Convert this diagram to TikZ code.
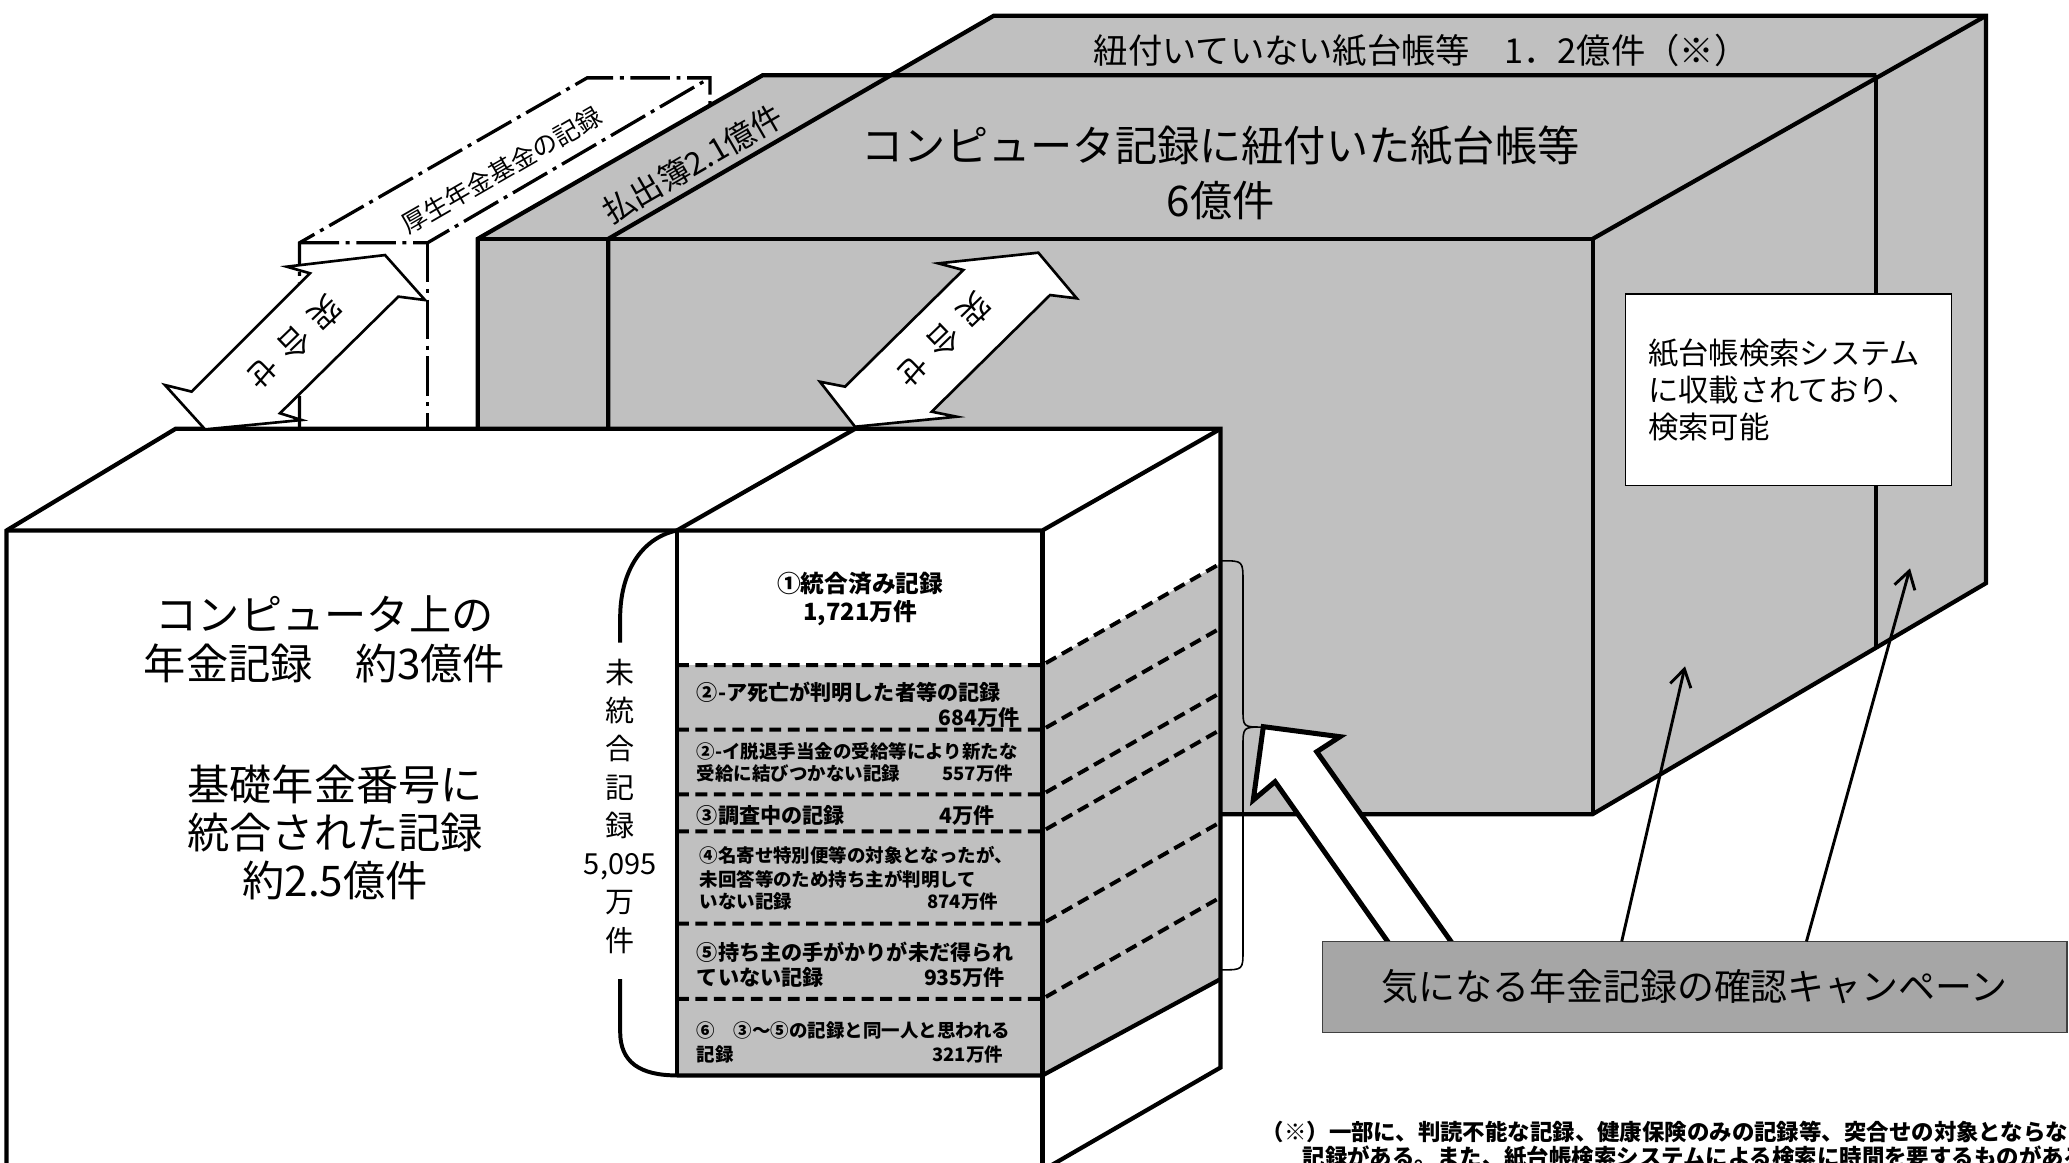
\documentclass[tikz,border=0pt]{standalone}
\usepackage{fontspec}
\setmainfont{Noto Sans CJK JP}
\usetikzlibrary{arrows.meta}
\definecolor{boxgray}{HTML}{C0C0C0}
\definecolor{campgray}{HTML}{A6A6A6}
\newcommand{\fsz}[2]{\fontsize{#1}{#2}\selectfont}
\begin{document}
\begin{tikzpicture}[x=1pt,y=-1pt,
  boxline/.style={line width=3.2pt},
  ddot/.style={line width=2.5pt, dash pattern=on 30pt off 5pt on 3pt off 5pt},
  dashline/.style={line width=3pt, dash pattern=on 9pt off 5pt},
  dblarrow/.style={draw, fill=white, line width=2pt, line join=miter},
  bigarrow/.style={draw, fill=white, line width=3.8pt, line join=miter},
  thinarrow/.style={line width=2.2pt, -{Straight Barb[length=13pt,width=16pt]}},
  bracket/.style={line width=3pt},
  brace/.style={line width=1.2pt},
  txt/.style={inner sep=0pt, text=black},
  stk/.style={txt, font=\bfseries},
  ]
\useasboundingbox (0,0) rectangle (1568,881);
\clip (0,0) rectangle (1568,881);

% ---------- back gray boxes ----------
\fill[boxgray] (362,181) -- (578,57) -- (677,57) -- (753,12) -- (1505,12) -- (1505,442) -- (1207,617) -- (362,617) -- cycle;
\draw[boxline] (362,340) -- (362,181) -- (578,57) -- (1422,57);
\draw[boxline] (362,181) -- (1207,181);
\draw[boxline] (461,340) -- (461,181) -- (753,12) -- (1505,12) -- (1505,442) -- (1207,617) -- (915,617);
\draw[boxline] (1207,181) -- (1505,12);
\draw[boxline] (1207,181) -- (1207,617);
\draw[boxline] (1422,57) -- (1422,491);

% ---------- dash-dot box (pension fund) ----------
\draw[ddot] (227,330) -- (227,184) -- (445,59) -- (538,59) -- (538,80);
\draw[ddot] (227,184) -- (324,184) -- (538,59);
\draw[ddot] (324,184) -- (324,330);

% ---------- front white box ----------
\fill[white] (5,402) -- (133,325) -- (925,325) -- (925,809) -- (790,886) -- (790,900) -- (5,900) -- cycle;
% stack
\fill[boxgray] (513,504) rectangle (790,815);
\fill[boxgray] (790,504) -- (925,427) -- (925,742) -- (790,815) -- cycle;
\foreach \yy in {504,553,602,630,700,757}
  \draw[dashline] (513,\yy) -- (790,\yy) -- (925,{\yy-77});
\draw[boxline] (513,815) -- (790,815) -- (925,742);
\draw[boxline] (513,402) -- (513,815);
% outlines
\draw[boxline] (5,900) -- (5,402) -- (133,325) -- (925,325) -- (925,809) -- (790,887);
\draw[boxline] (5,402) -- (790,402) -- (925,325);
\draw[boxline] (513,402) -- (648,325);
\draw[boxline] (790,402) -- (790,900);

% ---------- left bracket of unintegrated records ----------
\draw[bracket] (513,402) .. controls (485,408) and (470,435) .. (470,468) -- (470,487);
\draw[bracket] (470,742) -- (470,782) .. controls (470,805) and (485,815) .. (513,815);
\node[txt, align=center, font=\fsz{22}{29}] (unint) at (470,611) {未\\統\\合\\記\\録\\5,095\\万\\件};

% ---------- right thin brace ----------
\draw[brace] (926,425) .. controls (942,425) .. (942,441) -- (942,537) .. controls (942,551) .. (957,551)
  .. controls (942,551) .. (942,566) -- (942,720) .. controls (942,735) .. (926,735);

% ---------- double arrows ----------
\draw[dblarrow] (155.4,325.4) -- (125,291.8) -- (145.3,296.8) -- (234.9,207.1) -- (217.3,202.1) -- (291.8,193.3) -- (322.1,227.4) -- (301.9,224.8) -- (212.2,313.2) -- (228.6,318.3) -- cycle;
\draw[dblarrow] (648,323.4) -- (621.4,289.3) -- (640.4,293) -- (730,204.6) -- (711.1,199.6) -- (786.9,191.5) -- (816,226.1) -- (795.8,223.6) -- (706.1,312) -- (725,315.8) -- cycle;
\node[txt, rotate=224, font=\fsz{24}{24}] (match1) at (223,260) {突\hspace{9pt}合\hspace{9pt}せ};
\node[txt, rotate=224, font=\fsz{24}{24}] (match2) at (715,258) {突\hspace{9pt}合\hspace{9pt}せ};

% ---------- campaign ----------
\draw[bigarrow] (957.4,550.7) -- (1015.5,558.3) -- (997.9,569.7) -- (1101.4,716) -- (1053.4,716) -- (966.3,592.4) -- (949.8,606.3) -- cycle;
\node[draw=black!75, line width=1pt, fill=campgray, minimum width=564.5pt, minimum height=69pt, inner sep=0pt, font=\fsz{28}{28}] (camp) at (1284.25,748) {気になる年金記録の確認キャンペーン};
\coordinate (c1) at (1229,713.5);
\coordinate (c2) at (1369,713.5);
\coordinate (tip1) at (1277,505);
\coordinate (tip2) at (1447.5,430.7);
\draw[thinarrow] (c1) -- (tip1);
\draw[thinarrow] (c2) -- (tip2);

% ---------- search system box ----------
\node[draw, line width=1.2pt, fill=white, minimum width=247pt, minimum height=145pt, text width=213pt, align=left, inner xsep=17pt, inner ysep=0pt, font=\fsz{23}{28}] (search) at (1355.5,295.5) {紙台帳検索システム\\に収載されており、\\検索可能};

% ---------- texts on boxes ----------
\node[txt, font=\fsz{26}{26}] (unlinked) at (1077,38) {紐付いていない紙台帳等　1．2億件（※）};
\node[txt, align=center, font=\fsz{32}{41}] (linked) at (925,131) {コンピュータ記録に紐付いた紙台帳等\\6億件};
\node[txt, rotate=30, font=\fsz{24}{24}] (haraidashi) at (525,124) {払出簿2.1億件};
\node[txt, rotate=30, font=\fsz{19}{19}] (kikin) at (380,129) {厚生年金基金の記録};
\node[txt, align=center, font=\fsz{32}{37}] (comp) at (246,484.5) {コンピュータ上の\\年金記録　約3億件};
\node[txt, align=center, font=\fsz{32}{36.5}] (kiso) at (254,631) {基礎年金番号に\\統合された記録\\約2.5億件};

% ---------- stack texts ----------
\node[stk, align=center, font=\bfseries\fsz{18}{21}] (s1) at (652,454) {①統合済み記録\\1,721万件};
\node[stk, anchor=west, font=\bfseries\fsz{16}{16}] (s2a) at (528,524.3) {②-ア死亡が判明した者等の記録};
\node[stk, anchor=east, font=\bfseries\fsz{16}{16}] (s2an) at (773,543.8) {684万件};
\node[stk, anchor=west, font=\bfseries\fsz{14}{14}] (s2b) at (528,569.5) {②-イ脱退手当金の受給等により新たな};
\node[stk, anchor=west, font=\bfseries\fsz{14}{14}] (s2b2) at (528,586.5) {受給に結びつかない記録};
\node[stk, anchor=east, font=\bfseries\fsz{14}{14}] (s2bn) at (768,586.5) {557万件};
\node[stk, anchor=west, font=\bfseries\fsz{16}{16}] (s3) at (528,617.7) {③調査中の記録};
\node[stk, anchor=east, font=\bfseries\fsz{16}{16}] (s3n) at (754,617.7) {4万件};
\node[stk, anchor=west, font=\bfseries\fsz{14}{14}] (s4a) at (530,648) {④名寄せ特別便等の対象となったが、};
\node[stk, anchor=west, font=\bfseries\fsz{14}{14}] (s4b) at (530,666.4) {未回答等のため持ち主が判明して};
\node[stk, anchor=west, font=\bfseries\fsz{14}{14}] (s4c) at (530,683.2) {いない記録};
\node[stk, anchor=east, font=\bfseries\fsz{14}{14}] (s4n) at (756.6,683.2) {874万件};
\node[stk, anchor=west, font=\bfseries\fsz{16}{16}] (s5a) at (528,721.8) {⑤持ち主の手がかりが未だ得られ};
\node[stk, anchor=west, font=\bfseries\fsz{16}{16}] (s5b) at (528,740.8) {ていない記録};
\node[stk, anchor=east, font=\bfseries\fsz{16}{16}] (s5n) at (761.7,740.8) {935万件};
\node[stk, anchor=west, font=\bfseries\fsz{14}{14}] (s6a) at (528,780.6) {⑥　③～⑤の記録と同一人と思われる};
\node[stk, anchor=west, font=\bfseries\fsz{14}{14}] (s6b) at (528,799) {記録};
\node[stk, anchor=east, font=\bfseries\fsz{14}{14}] (s6n) at (760.4,799) {321万件};

% ---------- footnote ----------
\node[stk, anchor=west, font=\bfseries\fsz{17}{17}] (note1) at (956,858) {（※）一部に、判読不能な記録、健康保険のみの記録等、突合せの対象とならない};
\node[stk, anchor=west, font=\bfseries\fsz{17}{17}] (note2) at (987,877) {記録がある。また、紙台帳検索システムによる検索に時間を要するものがある。};
\end{tikzpicture}
\end{document}
